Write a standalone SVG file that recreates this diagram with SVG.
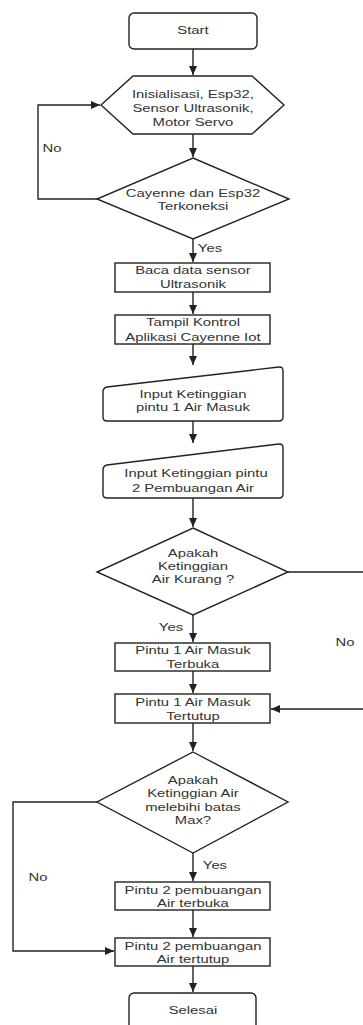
<svg xmlns="http://www.w3.org/2000/svg" width="363" height="1025" viewBox="0 0 363 1025">
<style>
.s{fill:#fff;stroke:#222;stroke-width:1.4}
.c{fill:none;stroke:#222;stroke-width:1.4}
text{font-family:"Liberation Sans",Arial,sans-serif;font-size:11.5px;fill:#333;text-anchor:middle;transform-box:fill-box;transform-origin:center;transform:scaleX(1.29)}
</style>
<defs>
<marker id="a" markerUnits="userSpaceOnUse" markerWidth="10" markerHeight="10" viewBox="0 0 10 10" refX="9" refY="5" orient="auto">
<path d="M0,1 L9,5 L0,9 Z" fill="#222"/>
</marker>
</defs>
<rect width="363" height="1025" fill="#fff"/>
<g id="connectors">
<path class="c" d="M193,49 V75" marker-end="url(#a)"/>
<path class="c" d="M193,134 V157" marker-end="url(#a)"/>
<path class="c" d="M97,199 H38 V105 H100" marker-end="url(#a)"/>
<path class="c" d="M193,239 V262" marker-end="url(#a)"/>
<path class="c" d="M193,292 V314" marker-end="url(#a)"/>
<path class="c" d="M193,344 V365" marker-end="url(#a)"/>
<path class="c" d="M193,421 V443" marker-end="url(#a)"/>
<path class="c" d="M193,498 V527" marker-end="url(#a)"/>
<path class="c" d="M193,615 V642" marker-end="url(#a)"/>
<path class="c" d="M288,572 H368 V709 H271" marker-end="url(#a)"/>
<path class="c" d="M193,671 V693" marker-end="url(#a)"/>
<path class="c" d="M193,723 V751" marker-end="url(#a)"/>
<path class="c" d="M193,853 V881" marker-end="url(#a)"/>
<path class="c" d="M97,802 H13 V951 H114" marker-end="url(#a)"/>
<path class="c" d="M193,910 V937" marker-end="url(#a)"/>
<path class="c" d="M193,966 V992" marker-end="url(#a)"/>
<text x="52" y="152">No</text>
<text x="210" y="252">Yes</text>
<text x="171" y="631">Yes</text>
<text x="345" y="646">No</text>
<text x="215" y="869">Yes</text>
<text x="38" y="881">No</text>
</g>
<g id="start">
<rect class="s" x="129" y="13" width="128" height="36" rx="5"/>
<text x="193" y="34">Start</text>
</g>
<g id="init">
<polygon class="s" points="101,105 133,76 252,76 284,105 252,134 133,134"/>
<text x="193" y="98">Inisialisasi, Esp32,</text>
<text x="193" y="112">Sensor Ultrasonik,</text>
<text x="193" y="126">Motor Servo</text>
</g>
<g id="connected">
<polygon class="s" points="193,158 289,199 193,239 97,199"/>
<text x="193" y="197">Cayenne dan Esp32</text>
<text x="193" y="210">Terkoneksi</text>
</g>
<g id="read">
<rect class="s" x="115" y="263" width="155" height="29"/>
<text x="193" y="274">Baca data sensor</text>
<text x="193" y="288">Ultrasonik</text>
</g>
<g id="display">
<rect class="s" x="115" y="315" width="155" height="29"/>
<text x="193" y="326">Tampil Kontrol</text>
<text x="193" y="341">Aplikasi Cayenne Iot</text>
</g>
<g id="input1">
<path class="s" d="M103,392 Q103,388 107,387 L279,367 Q283,366.5 283,371 V417 Q283,421 279,421 H107 Q103,421 103,417 Z"/>
<text x="193" y="398">Input Ketinggian</text>
<text x="193" y="411">pintu 1 Air Masuk</text>
</g>
<g id="input2">
<path class="s" d="M103,470 Q103,466 107,465 L279,444 Q283,443.5 283,448 V494 Q283,498 279,498 H107 Q103,498 103,494 Z"/>
<text x="196" y="477">Input Ketinggian pintu</text>
<text x="193" y="492">2 Pembuangan Air</text>
</g>
<g id="check-low">
<polygon class="s" points="193,528 288,572 193,615 97,572"/>
<text x="193" y="557">Apakah</text>
<text x="193" y="570">Ketinggian</text>
<text x="193" y="583">Air Kurang ?</text>
</g>
<g id="gate1-open">
<rect class="s" x="115" y="643" width="155" height="28"/>
<text x="193" y="654">Pintu 1 Air Masuk</text>
<text x="193" y="668">Terbuka</text>
</g>
<g id="gate1-close">
<rect class="s" x="115" y="694" width="155" height="29"/>
<text x="193" y="706">Pintu 1 Air Masuk</text>
<text x="193" y="720">Tertutup</text>
</g>
<g id="check-max">
<polygon class="s" points="193,752 288,802 193,853 97,802"/>
<text x="193" y="784">Apakah</text>
<text x="193" y="797">Ketinggian Air</text>
<text x="193" y="811">melebihi batas</text>
<text x="193" y="824">Max?</text>
</g>
<g id="gate2-open">
<rect class="s" x="115" y="882" width="155" height="28"/>
<text x="193" y="894">Pintu 2 pembuangan</text>
<text x="193" y="907">Air terbuka</text>
</g>
<g id="gate2-close">
<rect class="s" x="115" y="938" width="155" height="28"/>
<text x="193" y="950">Pintu 2 pembuangan</text>
<text x="193" y="963">Air tertutup</text>
</g>
<g id="end">
<rect class="s" x="129" y="993" width="127" height="40" rx="5"/>
<text x="193" y="1014">Selesai</text>
</g>
</svg>
